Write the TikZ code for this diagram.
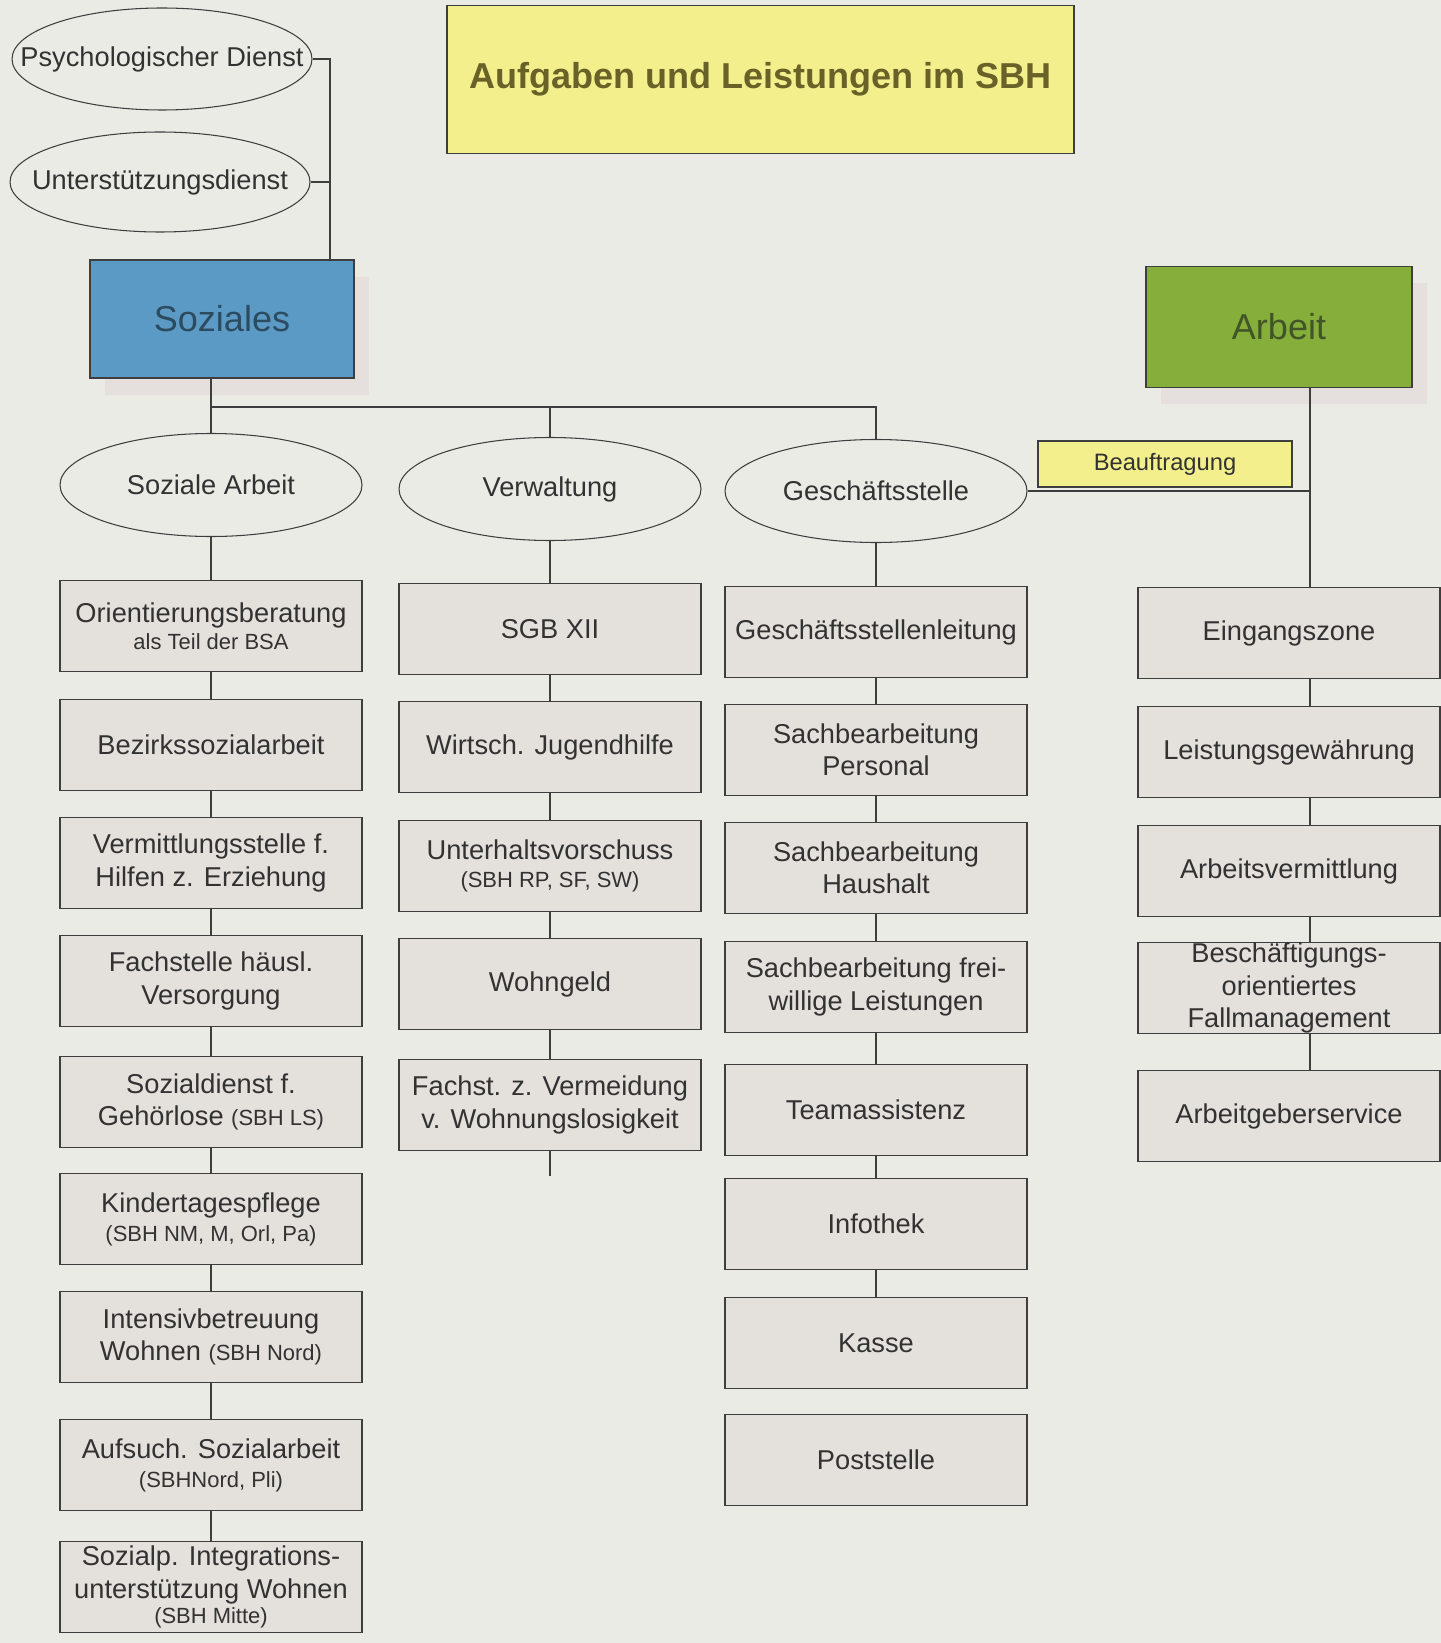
\documentclass[tikz,border=0pt]{standalone}
\usepackage{fontspec}
\setmainfont{Liberation Sans}
\usetikzlibrary{shapes.geometric, shadows}

\definecolor{paper}{RGB}{235,235,230}
\definecolor{boxfill}{RGB}{228,225,221}
\definecolor{ink}{RGB}{50,50,50}
\definecolor{rule}{RGB}{62,62,62}
\definecolor{titlefill}{RGB}{243,239,140}
\definecolor{titleink}{RGB}{105,98,40}
\definecolor{sozblue}{RGB}{92,154,198}
\definecolor{sozink}{RGB}{45,75,95}
\definecolor{arbgreen}{RGB}{134,174,58}
\definecolor{arbink}{RGB}{65,85,40}
\definecolor{shade}{RGB}{229,223,221}
\newcommand{\subtxt}[1]{{\fontsize{12.5}{15}\selectfont #1}}

\begin{document}
\begin{tikzpicture}[
      task/.style = {
        rectangle, draw=rule, fill=boxfill, line width=0.7pt,
        minimum width=6.04cm, minimum height=1.82cm, inner xsep=2pt, inner ysep=0pt,
        align=center, text=ink, font=\fontsize{15.5}{18.5}\selectfont
      },
      branch/.style = {
        ellipse, draw=rule, line width=0.6pt,
        minimum width=6.04cm, minimum height=2.06cm, inner sep=0pt,
        text=ink, font=\fontsize{15.5}{18.5}\selectfont
      },
      dept/.style = {
        rectangle, draw=rule, line width=0.7pt,
        minimum width=5.3cm, minimum height=2.4cm,
        font=\fontsize{20.5}{24}\selectfont,
        drop shadow={fill=shade, shadow xshift=0.3cm, shadow yshift=-0.34cm, opacity=1}
      },
      banner/.style = {
        rectangle, draw=rule, fill=titlefill, line width=0.7pt, inner sep=0pt
      },
      link/.style = {draw=rule, line width=0.7pt}
    ]

    \fill[paper] (0,0) rectangle (28.82,-32.86);
    \useasboundingbox (0,0) rectangle (28.82,-32.86);

    \node[banner, minimum width=12.54cm, minimum height=2.96cm, text=titleink,
      font=\bfseries\fontsize{20.5}{24}\selectfont] (Title) at (15.21,-1.59) {Aufgaben und Leistungen im SBH};

    \node[branch, minimum width=6.0cm, minimum height=2.04cm] (Psych)   at (3.24,-1.18) {\makebox[0pt]{Psychologischer Dienst}};
    \node[branch, minimum width=6.0cm, minimum height=2.0cm]  (Unterst) at (3.20,-3.64) {\makebox[0pt]{Unterstützungsdienst}};

    \node[dept, fill=sozblue, text=sozink,  minimum width=5.28cm, minimum height=2.36cm] (Soziales) at ( 4.44,-6.38) {Soziales};
    \node[dept, fill=arbgreen, text=arbink, minimum width=5.32cm, minimum height=2.42cm] (Arbeit)   at (25.58,-6.54) {Arbeit};

    \node[branch] (SozArbeit)  at ( 4.22,-9.70) {Soziale Arbeit};
    \node[branch] (Verwaltung) at (11.00,-9.78) {Verwaltung};
    \node[branch] (Gst)        at (17.52,-9.82) {Geschäftsstelle};

    \node[banner, minimum width=5.08cm, minimum height=0.92cm, text=ink,
      font=\fontsize{13.5}{16}\selectfont] (Beauftragung) at (23.30,-9.28) {Beauftragung};

    \node[task] (Orient)      at (4.22,-12.52) {Orientierungsberatung\\[-3pt]\subtxt{als Teil der BSA}};
    \node[task] (Bezirk)      at (4.22,-14.90) {Bezirkssozialarbeit};
    \node[task] (Vermittl)    at (4.22,-17.26) {Vermittlungsstelle f.\\Hilfen z. Erziehung};
    \node[task] (Fachstelle)  at (4.22,-19.62) {Fachstelle häusl.\\Versorgung};
    \node[task] (Gehoerlos)   at (4.22,-22.04) {Sozialdienst f.\\Gehörlose \subtxt{(SBH LS)}};
    \node[task] (Kita)        at (4.22,-24.38) {Kindertagespflege\\[-2pt]\subtxt{(SBH NM, M, Orl, Pa)}};
    \node[task] (Intensiv)    at (4.22,-26.74) {Intensivbetreuung\\Wohnen \subtxt{(SBH Nord)}};
    \node[task] (Aufsuch)     at (4.22,-29.30) {Aufsuch. Sozialarbeit\\[-2pt]\subtxt{(SBHNord, Pli)}};
    \node[task] (Integration) at (4.22,-31.74) {Sozialp. Integrations-\\unterstützung Wohnen\\[-4pt]\subtxt{(SBH Mitte)}};

    \node[task] (SGB)         at (11.00,-12.58) {SGB XII};
    \node[task] (Jugendhilfe) at (11.00,-14.94) {Wirtsch. Jugendhilfe};
    \node[task] (Unterhalt)   at (11.00,-17.32) {Unterhaltsvorschuss\\[-3pt]\subtxt{(SBH RP, SF, SW)}};
    \node[task] (Wohngeld)    at (11.00,-19.68) {Wohngeld};
    \node[task] (Wohnungslos) at (11.00,-22.10) {Fachst. z. Vermeidung\\v. Wohnungslosigkeit};

    \node[task] (GstLeitung)  at (17.52,-12.64) {Geschäftsstellenleitung};
    \node[task] (Personal)    at (17.52,-15.00) {Sachbearbeitung\\Personal};
    \node[task] (Haushalt)    at (17.52,-17.36) {Sachbearbeitung\\Haushalt};
    \node[task] (Freiwillig)  at (17.52,-19.74) {Sachbearbeitung frei-\\willige Leistungen};
    \node[task] (Team)        at (17.52,-22.20) {Teamassistenz};
    \node[task] (Infothek)    at (17.52,-24.48) {Infothek};
    \node[task] (Kasse)       at (17.52,-26.86) {Kasse};
    \node[task] (Post)        at (17.52,-29.20) {Poststelle};

    \node[task] (Eingang)     at (25.78,-12.66) {Eingangszone};
    \node[task] (Leistung)    at (25.78,-15.04) {Leistungsgewährung};
    \node[task] (Vermittlung) at (25.78,-17.42) {Arbeitsvermittlung};
    \node[task] (Fallmgmt)    at (25.78,-19.76) {Beschäftigungs-\\orientiertes\\Fallmanagement};
    \node[task] (ArbGeber)    at (25.78,-22.32) {Arbeitgeberservice};

    \coordinate (SozSpine) at (6.60,0);
    \coordinate (ASpine)   at (26.20,0);
    \coordinate (Bus)      at (0,-8.14);
    \coordinate (VerwEnd)  at (11.00,-23.52);

    \draw[link] (Psych.east) -- (Psych.east -| SozSpine) -- (SozSpine |- Soziales.north);
    \draw[link] (Unterst.east) -- (Unterst.east -| SozSpine);

    \draw[link] (SozArbeit.north |- Soziales.south) -- (SozArbeit.north);
    \draw[link] (SozArbeit.north |- Bus) -| (Gst.north);
    \draw[link] (Verwaltung.north |- Bus) -- (Verwaltung.north);

    \draw[link] (SozArbeit) -- (Orient) (Orient) -- (Bezirk) (Bezirk) -- (Vermittl)
      (Vermittl) -- (Fachstelle) (Fachstelle) -- (Gehoerlos) (Gehoerlos) -- (Kita)
      (Kita) -- (Intensiv) (Intensiv) -- (Aufsuch) (Aufsuch) -- (Integration);

    \draw[link] (Verwaltung) -- (SGB) (SGB) -- (Jugendhilfe) (Jugendhilfe) -- (Unterhalt)
      (Unterhalt) -- (Wohngeld) (Wohngeld) -- (Wohnungslos) (Wohnungslos) -- (VerwEnd);

    \draw[link] (Gst) -- (GstLeitung) (GstLeitung) -- (Personal) (Personal) -- (Haushalt)
      (Haushalt) -- (Freiwillig) (Freiwillig) -- (Team) (Team) -- (Infothek)
      (Infothek) -- (Kasse);

    \draw[link] (Gst.east) -- (Gst.east -| ASpine);
    \draw[link] (Arbeit.south -| ASpine) -- (Eingang.north -| ASpine);
    \draw[link] (Eingang.south -| ASpine) -- (Leistung.north -| ASpine);
    \draw[link] (Leistung.south -| ASpine) -- (Vermittlung.north -| ASpine);
    \draw[link] (Vermittlung.south -| ASpine) -- (Fallmgmt.north -| ASpine);
    \draw[link] (Fallmgmt.south -| ASpine) -- (ArbGeber.north -| ASpine);

  \end{tikzpicture}
\end{document}
